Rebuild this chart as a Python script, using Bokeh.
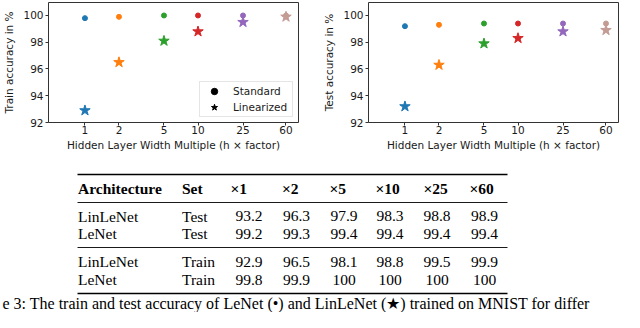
from bokeh.plotting import figure
from bokeh.models import Range1d, FixedTicker, ColumnDataSource, Legend, LegendItem, BasicTickFormatter
from bokeh.layouts import column, row
from bokeh.embed import file_html
from bokeh.resources import INLINE
from bokeh.core.properties import value

# ---------------- data ----------------
widths = [1, 2, 5, 10, 25, 60]
width_labels = ["1", "2", "5", "10", "25", "60"]
colors = ["#1f77b4", "#ff7f0e", "#2ca02c", "#d62728", "#9467bd", "#c49c94"]

train_lenet = [99.8, 99.9, 100, 100, 100, 100]
train_linlenet = [92.9, 96.5, 98.1, 98.8, 99.5, 99.9]
test_lenet = [99.2, 99.3, 99.4, 99.4, 99.4, 99.4]
test_linlenet = [93.2, 96.3, 97.9, 98.3, 98.8, 98.9]

y_ticks = [92, 94, 96, 98, 100]

table_header = ["Architecture", "Set", "×1", "×2", "×5", "×10", "×25", "×60"]
row_arch = ["LinLeNet", "LeNet", "LinLeNet", "LeNet"]
row_set = ["Test", "Test", "Train", "Train"]
row_values = [test_linlenet, test_lenet, train_linlenet, train_lenet]

caption = ("e 3: The train and test accuracy of LeNet (•) and LinLeNet (★) "
           "trained on MNIST for differ")

# ---------------- styling / layout ----------------
SANS = "DejaVu Sans"
SERIF = "Liberation Serif"
INK = "#1a1a1a"


def make_scatter(ylabel, std, lin, width, left, right, legend):
    p = figure(width=width, height=160, x_axis_type="log",
               x_range=Range1d(0.476, 77.4), y_range=Range1d(92, 100.97),
               output_backend="svg", toolbar_location=None,
               min_border_left=left, min_border_right=right,
               min_border_top=2, min_border_bottom=38)
    p.xgrid.visible = False
    p.ygrid.visible = False
    p.outline_line_color = "#333333"
    p.outline_line_width = 1
    p.background_fill_color = "white"

    src = ColumnDataSource(dict(x=widths, std=std, lin=lin, c=colors))
    p.scatter("x", "std", source=src, marker="circle", size=5,
              fill_color="c", line_color="c")
    p.scatter("x", "lin", source=src, marker="star", size=11,
              fill_color="c", line_color="c")

    p.xaxis.ticker = FixedTicker(ticks=widths)
    p.xaxis.formatter = BasicTickFormatter()
    p.xaxis.major_label_overrides = {w: l for w, l in zip(widths, width_labels)}
    p.yaxis.ticker = FixedTicker(ticks=y_ticks)

    for ax in (p.xaxis[0], p.yaxis[0]):
        ax.axis_line_color = None
        ax.major_tick_in = 0
        ax.major_tick_out = 3
        ax.major_tick_line_color = "#333333"
        ax.minor_tick_line_color = None
        ax.major_label_text_font = SANS
        ax.major_label_text_font_size = "10.5px"
        ax.major_label_text_color = INK
        ax.axis_label_text_font = SANS
        ax.axis_label_text_font_size = "10.5px"
        ax.axis_label_text_font_style = "normal"
        ax.axis_label_text_color = INK
    p.xaxis.major_label_standoff = 0
    p.xaxis.axis_label_standoff = 2
    p.yaxis.major_label_standoff = 2
    p.yaxis.axis_label_standoff = 5
    p.xaxis.axis_label = "Hidden Layer Width Multiple (h × factor)"
    p.yaxis.axis_label = ylabel

    if legend:
        lsrc = ColumnDataSource(dict(x=widths, std=std, lin=lin))
        r_std = p.scatter("x", "std", source=lsrc, marker="circle", color="black", visible=False)
        r_lin = p.scatter("x", "lin", source=lsrc, marker="star", color="black", visible=False)
        lg = Legend(items=[LegendItem(label="Standard", renderers=[r_std]),
                           LegendItem(label="Linearized", renderers=[r_lin])],
                    location="bottom_right", margin=5, padding=1,
                    glyph_width=26, glyph_height=16, label_height=15,
                    label_width=58, spacing=0, label_standoff=6,
                    border_line_color="#cccccc", border_line_width=1,
                    background_fill_alpha=0.85, inactive_fill_alpha=0,
                    label_text_font=SANS, label_text_font_size="10.5px",
                    label_text_color=INK)
        p.add_layout(lg)
    return p


p1 = make_scatter("Train accuracy in %", train_lenet, train_linlenet, 320, 46, 22, True)
p2 = make_scatter("Test accuracy in %", test_lenet, test_linlenet, 304, 46, 6, False)

# ---------------- table ----------------
p3 = figure(width=624, height=152, x_range=Range1d(0, 624), y_range=Range1d(312, 160),
            output_backend="svg", toolbar_location=None, min_border=0,
            x_axis_location=None, y_axis_location=None)
p3.grid.visible = False
p3.outline_line_color = None

TABLE_X0, TABLE_X1 = 77, 507
rule_y = [174, 202, 247, 293]
rule_w = [1.5, 0.9, 0.9, 1.5]
header_x = [77.5, 181.5, 230, 281.5, 329, 375, 423, 469]
header_y = 188
row_y = [215.5, 233, 261, 279]
text_cols_x = [77.5, 181.5]
value_cx = [248.5, 296, 343.5, 389.5, 436.5, 484]

p3.segment(x0=[TABLE_X0] * 4, x1=[TABLE_X1] * 4, y0=rule_y, y1=rule_y,
           line_color="black", line_width=rule_w)

p3.text(x=header_x, y=[header_y] * len(header_x), text=table_header,
        text_font=value(SERIF), text_font_size="15.5px", text_font_style="bold",
        text_baseline="middle", text_align="left", text_color="black")

lx, ly, lt = [], [], []
vx, vy, vt = [], [], []
for i, ry in enumerate(row_y):
    lx += text_cols_x
    ly += [ry, ry]
    lt += [row_arch[i], row_set[i]]
    for j, v in enumerate(row_values[i]):
        vx.append(value_cx[j])
        vy.append(ry)
        vt.append(f"{v:g}")

p3.text(x=lx, y=ly, text=lt, text_font=value(SERIF), text_font_size="15.5px",
        text_baseline="middle", text_align="left", text_color="black")
p3.text(x=vx, y=vy, text=vt, text_font=value(SERIF), text_font_size="15.5px",
        text_baseline="middle", text_align="center", text_color="black")

p3.text(x=[2], y=[311], text=[caption], text_font=value(SERIF),
        text_font_size="16px", text_baseline="bottom", text_align="left",
        text_color="black")

layout = column(row(p1, p2), p3)
open("out.html", "w").write(file_html(layout, INLINE))
